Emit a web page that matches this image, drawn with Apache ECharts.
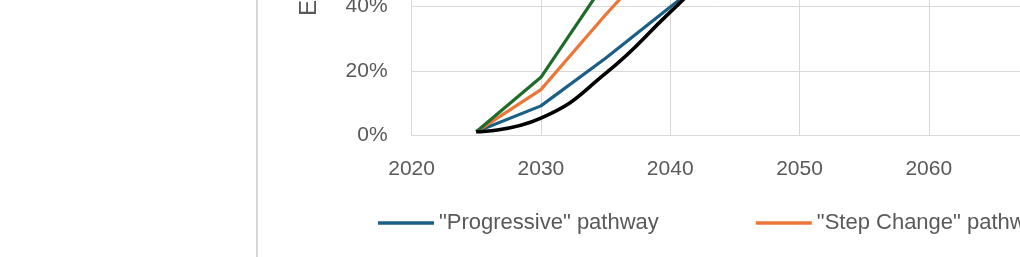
<!DOCTYPE html>
<html>
<head>
<meta charset="utf-8">
<script src="https://cdn.jsdelivr.net/npm/echarts@6/dist/echarts.min.js"></script>
<style>
html,body{margin:0;padding:0;background:#fff;}
#chart{width:1020px;height:257px;}
</style>
</head>
<body>
<div id="chart"></div>
<script>
// Data (percent values)
const years = [2025, 2030, 2035, 2040, 2045, 2050];
const progressive = [1.2, 9.2, 23.9, 39.7, 55, 70];
const stepChange = [1.2, 14.2, 37.3, 59, 78, 92];
const greenExports = [1.2, 18.0, 47.5, 75, 92, 100];
const required = [1.2, 5.4, 19.2, 38.1, 57, 73];
const seriesNames = ['"Progressive" pathway', '"Step Change" pathway', '"Green Energy Exports" pathway', 'Required trajectory'];
const yAxisTitle = 'EV share of vehicle fleet';

const pairs = arr => years.map((y, i) => [y, arr[i]]);
const font = '"Liberation Sans", Arial, sans-serif';
const textColor = '#595959';
const gridColor = '#d9d9d9';

const chart = echarts.init(document.getElementById('chart'), null, {renderer: 'canvas'});
chart.setOption({
  animation: false,
  backgroundColor: '#ffffff',
  grid: {left: 411.6, top: -188.5, width: 646.5, height: 324.2, containLabel: false, outerBoundsMode: 'none'},
  xAxis: {
    type: 'value', min: 2020, max: 2070, interval: 10,
    axisLine: {show: true, lineStyle: {color: gridColor, width: 1}},
    axisTick: {show: false},
    splitLine: {show: true, lineStyle: {color: gridColor, width: 1}},
    axisLabel: {color: textColor, fontFamily: font, fontSize: 21, margin: 23, formatter: v => String(v)}
  },
  yAxis: {
    type: 'value', min: 0, max: 100, interval: 20,
    axisLine: {show: false},
    axisTick: {show: false},
    splitLine: {show: true, lineStyle: {color: gridColor, width: 1}},
    axisLabel: {color: textColor, fontFamily: font, fontSize: 21, margin: 24, formatter: '{value}%'}
  },
  legend: {
    left: 378, top: 212, width: 3000, padding: 0,
    itemWidth: 56, itemHeight: 3.5, itemGap: 97, itemTextGap: 3,
    icon: 'rect',
    textStyle: {color: textColor, fontFamily: font, fontSize: 22},
    data: seriesNames
  },
  graphic: [
    {type: 'rect', left: 256, top: 0, shape: {width: 2, height: 257}, style: {fill: '#d6d6d6'}},
    {type: 'text', x: 309, y: 16, rotation: Math.PI / 2,
     style: {text: yAxisTitle, fill: textColor, font: '24px ' + font, textAlign: 'left', textVerticalAlign: 'middle'}}
  ],
  series: [
    {name: seriesNames[0], type: 'line', data: pairs(progressive), symbol: 'none', lineStyle: {color: '#1a5f85', width: 3.2}, itemStyle: {color: '#1a5f85'}},
    {name: seriesNames[1], type: 'line', data: pairs(stepChange), symbol: 'none', lineStyle: {color: '#ec7638', width: 3.2}, itemStyle: {color: '#ec7638'}},
    {name: seriesNames[2], type: 'line', data: pairs(greenExports), symbol: 'none', lineStyle: {color: '#1e6b2a', width: 3.2}, itemStyle: {color: '#1e6b2a'}},
    {name: seriesNames[3], type: 'line', data: pairs(required), symbol: 'none', smooth: 0.5, lineStyle: {color: '#000000', width: 3.6}, itemStyle: {color: '#000000'}}
  ]
});
</script>
</body>
</html>
